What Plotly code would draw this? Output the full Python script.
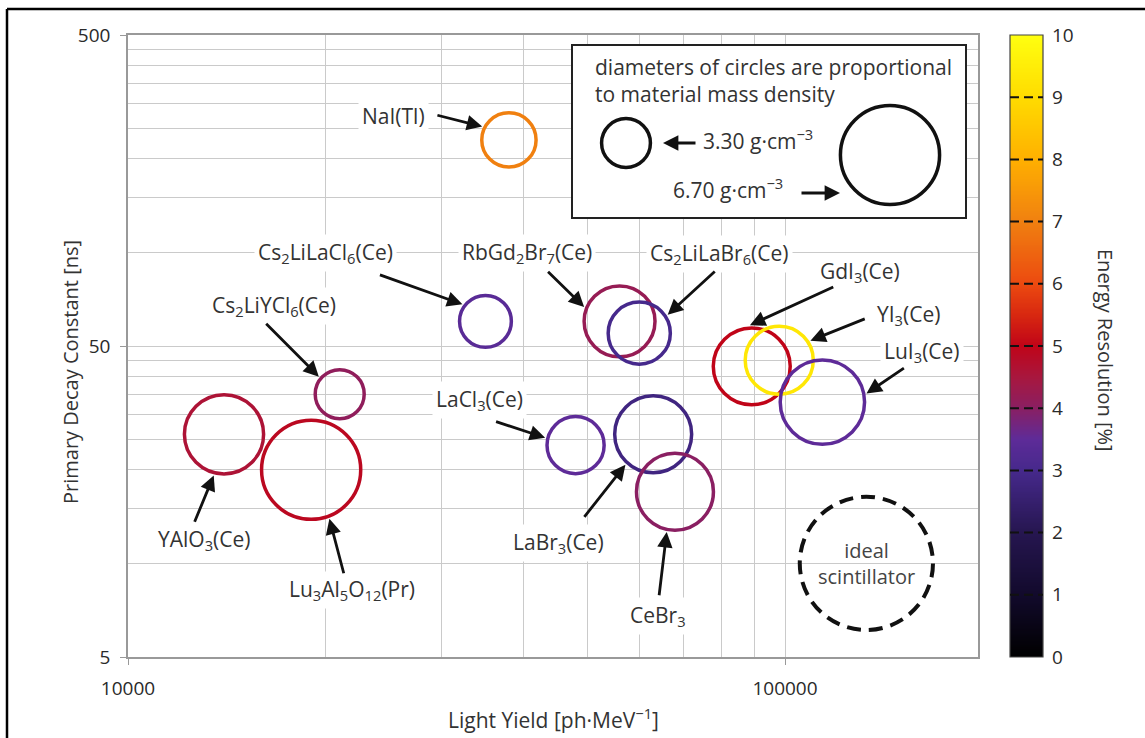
import numpy as np
import plotly.graph_objects as go

# ---------------------------------------------------------------- data
names = [
    "NaI(Tl)",
    "Cs<sub>2</sub>LiLaCl<sub>6</sub>(Ce)",
    "Cs<sub>2</sub>LiYCl<sub>6</sub>(Ce)",
    "YAlO<sub>3</sub>(Ce)",
    "Lu<sub>3</sub>Al<sub>5</sub>O<sub>12</sub>(Pr)",
    "RbGd<sub>2</sub>Br<sub>7</sub>(Ce)",
    "Cs<sub>2</sub>LiLaBr<sub>6</sub>(Ce)",
    "GdI<sub>3</sub>(Ce)",
    "YI<sub>3</sub>(Ce)",
    "LuI<sub>3</sub>(Ce)",
    "LaCl<sub>3</sub>(Ce)",
    "LaBr<sub>3</sub>(Ce)",
    "CeBr<sub>3</sub>",
]
light_yield = [38000, 35000, 21000, 14000, 19000, 56000, 60000, 89000, 98000, 114000, 48000, 63000, 68000]
decay_ns = [230, 60, 35, 26, 20, 60, 55, 43, 45, 33, 24, 26, 17]
density = [3.67, 3.5, 3.31, 5.35, 6.7, 4.79, 4.2, 5.2, 4.6, 5.7, 3.86, 5.2, 5.2]
resolution = [7.0, 3.4, 4.1, 4.6, 4.9, 4.2, 3.0, 5.0, 9.3, 3.5, 3.5, 2.8, 4.0]

ideal_light_yield = 133000
ideal_decay_ns = 10
ideal_density = 9.0

legend_density = [3.30, 6.70]

x_ticks = [10000, 100000]
x_minor = [20000, 30000, 40000, 50000, 60000, 70000, 80000, 90000]
y_ticks = [5, 50, 500]
y_minor = [10, 15, 20, 25, 30, 35, 40, 45, 100, 150, 200, 250, 300, 350, 400, 450]
cbar_ticks = list(range(0, 11))

# ---------------------------------------------------------------- styling
W, H = 1145, 738
ML, MR, MT, MB = 128, 35, 35, 81
PW, PH = W - ML - MR, H - MT - MB
XR = [4, 4 + 850 / 657]                    # log10 range of the light-yield axis
YR = [np.log10(5), np.log10(500)]          # log10 range of the decay axis
PX_PER_DENSITY = 14.8                      # circle diameter in px per g/cm^3
RING = 3.5
FONT = "Open Sans, Liberation Sans, Arial, sans-serif"
TXT = "#333333"
GRID = "#cacaca"


def px(xp):
    return (xp - ML) / PW


def py(yp):
    return (H - MB - yp) / PH


def xdom(v):
    return (np.log10(v) - XR[0]) / (XR[1] - XR[0])


def ydom(v):
    return (np.log10(v) - YR[0]) / (YR[1] - YR[0])


def font(size, color=TXT):
    return dict(family=FONT, size=size, color=color)


energy_scale = [
    [0.00, "#000000"],
    [0.10, "#120a2c"],
    [0.20, "#261650"],
    [0.30, "#46298c"],
    [0.35, "#5e2b98"],
    [0.40, "#8a1f62"],
    [0.45, "#a8173e"],
    [0.50, "#c00418"],
    [0.55, "#d82810"],
    [0.60, "#ec4a10"],
    [0.70, "#f08010"],
    [0.80, "#ffb000"],
    [0.90, "#ffdc00"],
    [1.00, "#ffff10"],
]

# label placement, px relative to each circle centre (screen y grows downward):
# text centre (tx, ty), direction of the arrow tip (hx, hy), arrow tail (sx, sy)
label_place = [
    (-115, -24, -32, -16, -73, -25),
    (-160, -68, -27, -20, -107, -47),
    (-66, -88, -25, -21, -75, -72),
    (-20, 106, -12, 48, -30, 89),
    (41, 120, 19, 51, 33, 105),
    (-93, -68, -37, -15, -73, -51),
    (80, -79, 31, -20, 77, -63),
    (108, -94, -2, -45, 83, -80),
    (129, -45, 35, -22, 87, -42),
    (100, -50, 46, -9, 83, -35),
    (-96, -45, -33, -8, -81, -24),
    (-95, 109, -30, 33, -70, 84),
    (-17, 124, -9, 44, -16, 105),
]

ARROW = dict(arrowhead=2, arrowsize=1.1, arrowwidth=2.8, arrowcolor="#111111")

fig = go.Figure()

# colour bar drawn as a one-column heatmap
levels = np.linspace(0, 10, 501)
fig.add_trace(go.Heatmap(
    z=levels.reshape(-1, 1), x=[0], y=levels,
    colorscale=energy_scale, zmin=0, zmax=10, showscale=False,
    xaxis="x2", yaxis="y2", hoverinfo="skip",
))

# scintillator circles
fig.add_trace(go.Scatter(
    x=light_yield, y=decay_ns, mode="markers",
    marker=dict(
        symbol="circle-open",
        size=[d * PX_PER_DENSITY for d in density],
        sizemode="diameter", opacity=1,
        color=resolution, colorscale=energy_scale, cmin=0, cmax=10,
        line=dict(width=RING),
    ),
    hoverinfo="skip", showlegend=False, cliponaxis=False,
))

annotations = []
shapes = []

# material labels (white boxes break the grid)
for name, lx, ty, p in zip(names, light_yield, decay_ns, label_place):
    annotations.append(dict(
        x=np.log10(lx), y=np.log10(ty), xref="x", yref="y",
        xanchor="center", yanchor="middle",
        text=name, showarrow=False, xshift=p[0], yshift=-p[1],
        font=font(21), bgcolor="white", borderpad=3,
    ))

# arrows: tip sits on the ring of each circle
for lx, ty, d, p in zip(light_yield, decay_ns, density, label_place):
    reach = d * PX_PER_DENSITY / 2 + RING / 2 + 1
    norm = np.hypot(p[2], p[3])
    tip_x, tip_y = p[2] / norm * reach, p[3] / norm * reach
    annotations.append(dict(
        x=np.log10(lx), y=np.log10(ty), xref="x", yref="y",
        xshift=tip_x, yshift=-tip_y,
        text="", showarrow=True, ax=p[4] - tip_x, ay=p[5] - tip_y, standoff=0, **ARROW,
    ))

# ideal scintillator (dashed outline, pixel sized on the axis domain)
r_ideal = ideal_density * PX_PER_DENSITY / 2
shapes.append(dict(
    type="circle", xref="x domain", yref="y domain", xsizemode="pixel", ysizemode="pixel",
    xanchor=xdom(ideal_light_yield), yanchor=ydom(ideal_decay_ns),
    x0=-r_ideal, x1=r_ideal, y0=-r_ideal, y1=r_ideal,
    line=dict(color="#111111", width=4, dash="14px,8px"), layer="above",
))
annotations.append(dict(
    x=np.log10(ideal_light_yield), y=np.log10(ideal_decay_ns), xref="x", yref="y",
    xanchor="center", yanchor="middle",
    text="ideal<br>scintillator", showarrow=False, font=font(20, "#444444"),
))

# size key box
shapes.append(dict(
    type="rect", xref="paper", yref="paper",
    x0=px(572), x1=px(966), y0=py(218), y1=py(45),
    line=dict(color="#222222", width=2), fillcolor="white", layer="above",
))
key_centres = [(626, 143), (890, 155)]
for d, (cx, cy) in zip(legend_density, key_centres):
    r = d * PX_PER_DENSITY / 2
    shapes.append(dict(
        type="circle", xref="paper", yref="paper", xsizemode="pixel", ysizemode="pixel",
        xanchor=px(cx), yanchor=py(cy), x0=-r, x1=r, y0=-r, y1=r,
        line=dict(color="#111111", width=RING), layer="above",
    ))
annotations += [
    dict(x=px(593), y=py(80), xref="paper", yref="paper", xanchor="left", yanchor="middle",
         align="left", text="diameters of circles are proportional<br>to material mass density",
         showarrow=False, font=font(21)),
    dict(x=px(701), y=py(139), xref="paper", yref="paper", xanchor="left", yanchor="middle",
         text=f"{legend_density[0]:.2f} g·cm<sup>−3</sup>", showarrow=False, font=font(21)),
    dict(x=px(671), y=py(189), xref="paper", yref="paper", xanchor="left", yanchor="middle",
         text=f"{legend_density[1]:.2f} g·cm<sup>−3</sup>", showarrow=False, font=font(21)),
    dict(x=px(663), y=py(143), xref="paper", yref="paper", text="", showarrow=True,
         ax=34, ay=0, **ARROW),
    dict(x=px(840), y=py(193), xref="paper", yref="paper", text="", showarrow=True,
         ax=-40, ay=0, **ARROW),
]

# axis titles
annotations += [
    dict(x=px(553), y=py(718), xref="paper", yref="paper", xanchor="center", yanchor="middle",
         showarrow=False, text="Light Yield [ph·MeV<sup>−1</sup>]", font=font(21)),
    dict(x=px(70), y=py(372), xref="paper", yref="paper", xanchor="center", yanchor="middle",
         showarrow=False, textangle=-90, text="Primary Decay Constant [ns]", font=font(20)),
    dict(x=px(1105), y=py(350), xref="paper", yref="paper", xanchor="center", yanchor="middle",
         showarrow=False, textangle=90, text="Energy Resolution [%]", font=font(20)),
]

# colour bar outline and dashed level marks
shapes.append(dict(type="rect", xref="x2 domain", yref="y2 domain", x0=0, x1=1, y0=0, y1=1,
                   line=dict(color="#444444", width=1.2), layer="above"))
for k in cbar_ticks[1:-1]:
    shapes.append(dict(type="line", xref="x2 domain", yref="y2", x0=0, x1=1, y0=k, y1=k,
                       line=dict(color="#111111", width=2, dash="9px,5px"), layer="above"))

# frame lines along the left and top edges of the page
shapes += [
    dict(type="line", xref="paper", yref="paper", x0=px(7), x1=px(7), y0=py(9), y1=py(H + 5),
         line=dict(color="black", width=2.5), layer="above"),
    dict(type="line", xref="paper", yref="paper", x0=px(7), x1=px(W + 5), y0=py(9), y1=py(9),
         line=dict(color="black", width=2.5), layer="above"),
]

fig.update_layout(
    width=W, height=H,
    margin=dict(l=ML, r=MR, t=MT, b=MB),
    paper_bgcolor="white", plot_bgcolor="white",
    showlegend=False,
    annotations=annotations, shapes=shapes,
    xaxis=dict(
        type="log", domain=[0, px(978)], range=XR,
        tickvals=x_ticks, ticktext=[str(v) for v in x_ticks],
        ticks="outside", ticklen=6, tickcolor="#999999", ticklabelstandoff=7,
        showline=True, linecolor="#999999", linewidth=1.5, mirror=True,
        showgrid=True, gridcolor=GRID, gridwidth=1.3, zeroline=False,
        minor=dict(tickvals=x_minor, showgrid=True, gridcolor=GRID, gridwidth=1.3, ticks=""),
        tickfont=font(19, "#2a2a2a"),
    ),
    yaxis=dict(
        type="log", domain=[0, 1], range=YR,
        tickvals=y_ticks, ticktext=[str(v) for v in y_ticks],
        ticks="outside", ticklen=6, tickcolor="#999999", ticklabelstandoff=6,
        showline=True, linecolor="#999999", linewidth=1.5, mirror=True,
        showgrid=True, gridcolor=GRID, gridwidth=1.3, zeroline=False,
        minor=dict(tickvals=y_minor, showgrid=True, gridcolor=GRID, gridwidth=1.3, ticks=""),
        tickfont=font(19, "#2a2a2a"),
    ),
    xaxis2=dict(domain=[px(1010), px(1043)], anchor="y2", visible=False, range=[-0.5, 0.5]),
    yaxis2=dict(
        domain=[0, 1], anchor="x2", side="right", range=[0, 10],
        tickvals=cbar_ticks, ticks="", showgrid=False, showline=False, zeroline=False,
        ticklabelstandoff=8, tickfont=font(19, "#2a2a2a"),
    ),
)

fig.write_html("out.html")
